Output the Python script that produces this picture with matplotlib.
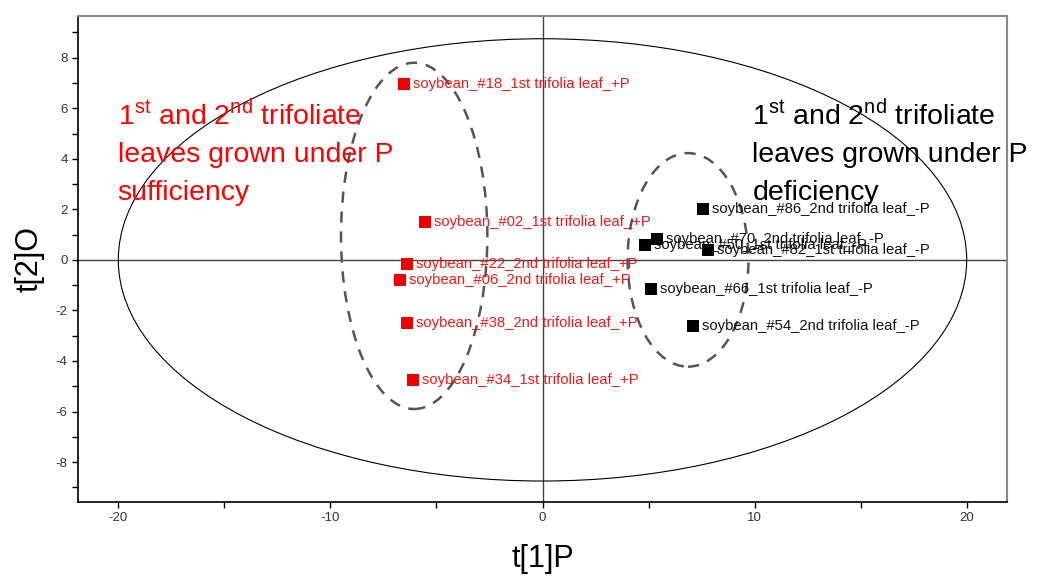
import matplotlib
matplotlib.rcParams['font.family'] = ['Liberation Sans', 'DejaVu Sans']
matplotlib.rcParams['mathtext.fontset'] = 'custom'
matplotlib.rcParams['mathtext.rm'] = 'Liberation Sans'
matplotlib.rcParams['axes.unicode_minus'] = False
matplotlib.use('Agg')

import matplotlib.pyplot as plt
from matplotlib.patches import Ellipse
from matplotlib.ticker import MultipleLocator

# --------------------------------------
# Scores
# --------------------------------------
plus_labels = [
    "soybean_#18_1st trifolia leaf_+P",
    "soybean_#02_1st trifolia leaf_+P",
    "soybean_#22_2nd trifolia leaf_+P",
    "soybean_#06_2nd trifolia leaf_+P",
    "soybean_#38_2nd trifolia leaf_+P",
    "soybean_#34_1st trifolia leaf_+P",
]
plus_t1 = [-6.55, -5.56, -6.38, -6.74, -6.41, -6.11]
plus_t2 = [6.94, 1.48, -0.18, -0.78, -2.51, -4.74]

minus_labels = [
    "soybean_#86_2nd trifolia leaf_-P",
    "soybean_#50_1st trifolia leaf_-P",
    "soybean_#70_2nd trifolia leaf_-P",
    "soybean_#82_1st trifolia leaf_-P",
    "soybean_#66_1st trifolia leaf_-P",
    "soybean_#54_2nd trifolia leaf_-P",
]
minus_t1 = [7.57, 4.85, 5.40, 7.79, 5.12, 7.08]
minus_t2 = [2.00, 0.60, 0.84, 0.40, -1.14, -2.63]

# Hotelling T2 ellipse semi-axes
t2_a, t2_b = 20.0, 8.75

# Group ellipses: (center x, center y, width, height)
plus_group = (-6.05, 0.95, 6.9, 13.7)
minus_group = (6.86, 0.0, 5.7, 8.45)

# --------------------------------------
# Plot
# --------------------------------------
fig = plt.figure(figsize=(10.6, 5.78), dpi=100)
ax = fig.add_axes([78 / 1060, (578 - 502) / 578, (1007 - 78) / 1060, (502 - 16) / 578])

ax.set_xlim(-21.9, 21.9)
ax.set_ylim(-9.58, 9.65)

ax.axhline(0, color="#444444", lw=1.0, zorder=1)
ax.axvline(0, color="#444444", lw=1.0, zorder=1)

ax.add_patch(Ellipse((0, 0), 2 * t2_a, 2 * t2_b, fill=False, ec="black", lw=0.8, zorder=1))
for cx, cy, w, h in (plus_group, minus_group):
    ax.add_patch(Ellipse((cx, cy), w, h, fill=False, ec="#555555", lw=1.8,
                         ls=(0, (4.5, 3.5)), zorder=2))

ax.scatter(plus_t1, plus_t2, marker="s", s=70, color="#EE0000", zorder=3, linewidths=0)
ax.scatter(minus_t1, minus_t2, marker="s", s=70, color="black", zorder=3, linewidths=0)

for lab, x, y in zip(plus_labels, plus_t1, plus_t2):
    ax.annotate(lab, (x, y), xytext=(6.5, 0), textcoords="offset points",
                va="center", ha="left", fontsize=10.7, color="#F01818", zorder=4)
for lab, x, y in zip(minus_labels, minus_t1, minus_t2):
    ax.annotate(lab, (x, y), xytext=(6.5, 0), textcoords="offset points",
                va="center", ha="left", fontsize=10.7, color="#111111", zorder=4)

# Group annotations
left_lines = ["1$^{\\mathrm{st}}$ and 2$^{\\mathrm{nd}}$ trifoliate",
              "leaves grown under P", "sufficiency"]
right_lines = ["1$^{\\mathrm{st}}$ and 2$^{\\mathrm{nd}}$ trifoliate",
               "leaves grown under P", "deficiency"]
baselines = [5.32, 3.86, 2.35]
for txt, yb in zip(left_lines, baselines):
    ax.text(-20.03, yb, txt, color="red", fontsize=20.5, va="baseline", ha="left", zorder=5)
for txt, yb in zip(right_lines, baselines):
    ax.text(9.9, yb, txt, color="black", fontsize=20.5, va="baseline", ha="left",
            zorder=5, clip_on=False)

# Axes formatting
ax.xaxis.set_major_locator(MultipleLocator(10))
ax.xaxis.set_minor_locator(MultipleLocator(5))
ax.yaxis.set_major_locator(MultipleLocator(2))
ax.yaxis.set_minor_locator(MultipleLocator(1))
ax.tick_params(which="both", direction="out", length=4, width=1, color="black",
               labelsize=9.5, labelcolor="#333333")

ax.spines["top"].set_color("#888888")
ax.spines["right"].set_color("#888888")
ax.spines["top"].set_linewidth(1.5)
ax.spines["right"].set_linewidth(1.5)
ax.spines["left"].set_linewidth(1.2)
ax.spines["bottom"].set_linewidth(1.2)

ax.set_xlabel("t[1]P", fontsize=22, labelpad=14)
ax.set_ylabel("t[2]O", fontsize=22, labelpad=8)

fig.savefig("out.png", dpi=100)
plt.close(fig)
